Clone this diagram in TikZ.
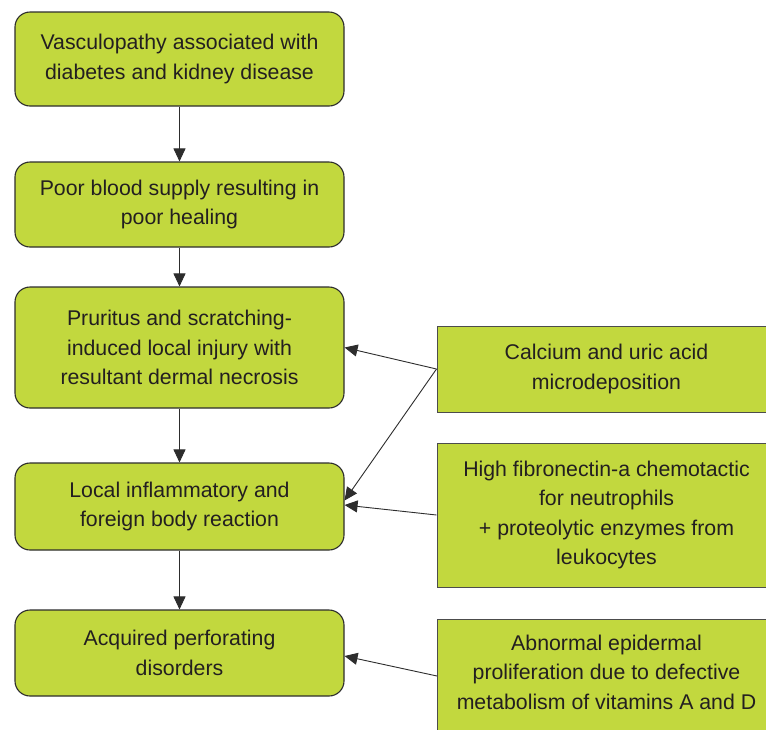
\documentclass[tikz,border=0pt]{standalone}
\usepackage{fontspec}
\setmainfont{Liberation Sans}
\usetikzlibrary{arrows.meta}
\definecolor{boxgreen}{RGB}{194,216,62}
\definecolor{edgegray}{RGB}{45,45,45}
\definecolor{ink}{RGB}{35,31,32}
\begin{document}
\begin{tikzpicture}[x=1pt,y=-1pt,
  boxtext/.style={align=center, text=ink, font=\fontsize{21.3pt}{29.5pt}\selectfont, inner sep=0pt},
  lbox/.style={boxtext, draw=edgegray, line width=1.1pt, fill=boxgreen, rounded corners=15pt, minimum width=329pt},
  rbox/.style={boxtext, draw=edgegray!85, line width=1pt, fill=boxgreen, minimum width=339pt},
  arr/.style={draw=edgegray, line width=0.9pt, -{Triangle[length=13pt,width=12pt]}}]
\clip (0,0) rectangle (766,729);
\fill[white] (0,0) rectangle (766,729);
% left column
\node[lbox, minimum height=94pt] (n1) at (179.5,59) {Vasculopathy associated with\\diabetes and kidney disease};
\node[lbox, minimum height=85pt] (n2) at (179.5,204.5) {Poor blood supply resulting in\\poor healing};
\node[lbox, minimum height=121pt] (n3) at (179.5,347.5) {Pruritus and scratching-\\induced local injury with\\resultant dermal necrosis};
\node[lbox, minimum height=87pt] (n4) at (179.5,506.5) {Local inflammatory and\\foreign body reaction};
\node[lbox, minimum height=86pt] (n5) at (179.5,653) {Acquired perforating\\disorders};
% right column
\node[rbox, minimum height=86pt] (ra) at (606.5,369) {Calcium and uric acid\\microdeposition};
\node[rbox, minimum height=144pt] (rb) at (606.5,515) {High fibronectin-a chemotactic\\for neutrophils\\+ proteolytic enzymes from\\leukocytes};
\node[rbox, minimum height=130pt, anchor=north west] (rc) at (437,619) {};
\node[boxtext] (rctext) at (606.5,672) {Abnormal epidermal\\proliferation due to defective\\metabolism of vitamins A and D};
\coordinate (rcout) at (437,676);
% vertical arrows
\draw[arr] (n1.south) -- (n2.north);
\draw[arr] (n2.south) -- (n3.north);
\draw[arr] (n3.south) -- (n4.north);
\draw[arr] (n4.south) -- (n5.north);
% side arrows
\draw[arr] (ra.west) -- (n3.east);
\draw[arr] (ra.west) -- ([yshift=6pt]n4.east);
\draw[arr] (rb.west) -- ([yshift=1.5pt]n4.east);
\draw[arr] (rcout) -- ([yshift=-3pt]n5.east);
\end{tikzpicture}
\end{document}
